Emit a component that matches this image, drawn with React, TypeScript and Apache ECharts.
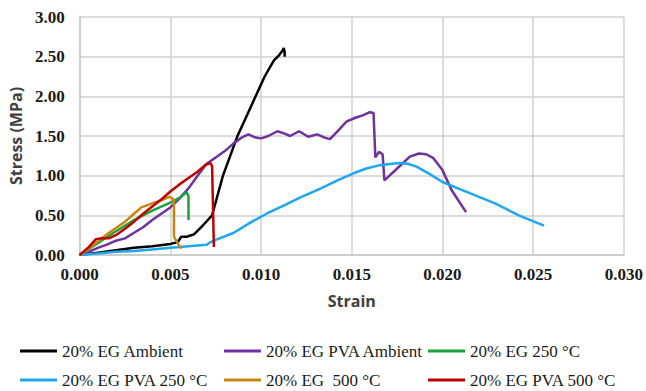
import React, { useEffect, useRef } from "react";
import * as echarts from "echarts";

// Stress–strain curves, each point is [strain, stress (MPa)]
const egAmbient: [number, number][] = [
  [0, 0], [0.001, 0.03], [0.002, 0.06], [0.003, 0.09], [0.004, 0.11], [0.005, 0.14],
  [0.0054, 0.16], [0.0056, 0.23], [0.0059, 0.23], [0.0063, 0.26], [0.0067, 0.35],
  [0.0073, 0.5], [0.0076, 0.75], [0.0079, 1.0], [0.0083, 1.25], [0.0087, 1.5],
  [0.0092, 1.75], [0.0097, 2.0], [0.0102, 2.25], [0.0107, 2.45], [0.011, 2.52],
  [0.0112, 2.58], [0.01125, 2.61], [0.0113, 2.56], [0.0113, 2.5],
];

const egPvaAmbient: [number, number][] = [
  [0, 0], [0.0005, 0.04], [0.001, 0.09], [0.0015, 0.13], [0.002, 0.18], [0.0025, 0.21],
  [0.003, 0.28], [0.0035, 0.35], [0.004, 0.44], [0.0045, 0.52], [0.005, 0.6],
  [0.0055, 0.71], [0.006, 0.84], [0.0065, 1.0], [0.007, 1.15], [0.0075, 1.23],
  [0.008, 1.31], [0.0085, 1.41], [0.009, 1.49], [0.0093, 1.52], [0.0097, 1.48],
  [0.01, 1.47], [0.0104, 1.5], [0.0109, 1.56], [0.0113, 1.53], [0.0116, 1.5],
  [0.0121, 1.56], [0.0126, 1.49], [0.0131, 1.52], [0.0135, 1.48], [0.0138, 1.46],
  [0.0143, 1.58], [0.0147, 1.68], [0.0152, 1.73], [0.0156, 1.76], [0.016, 1.8],
  [0.0162, 1.79], [0.0163, 1.23], [0.0165, 1.3], [0.0167, 1.27], [0.0168, 0.94],
  [0.0175, 1.09], [0.0182, 1.24], [0.0187, 1.28], [0.0191, 1.27], [0.0195, 1.22],
  [0.02, 1.07], [0.0205, 0.82], [0.0213, 0.54],
];

const eg250: [number, number][] = [
  [0, 0], [0.001, 0.15], [0.002, 0.3], [0.003, 0.44], [0.004, 0.56], [0.005, 0.66],
  [0.0055, 0.72], [0.0059, 0.79], [0.006, 0.74], [0.006, 0.44],
];

const egPva250: [number, number][] = [
  [0, 0], [0.001, 0.02], [0.002, 0.04], [0.003, 0.05], [0.004, 0.07], [0.005, 0.09],
  [0.006, 0.11], [0.007, 0.13], [0.0072, 0.16], [0.0075, 0.19], [0.0085, 0.28],
  [0.0095, 0.42], [0.0103, 0.52], [0.0113, 0.63], [0.0122, 0.73], [0.0133, 0.84],
  [0.0143, 0.95], [0.0151, 1.03], [0.0158, 1.09], [0.0165, 1.13], [0.0176, 1.16],
  [0.0181, 1.15], [0.0186, 1.11], [0.0193, 1.02], [0.02, 0.92], [0.0215, 0.78],
  [0.0229, 0.65], [0.0242, 0.5], [0.0256, 0.37],
];

const eg500: [number, number][] = [
  [0, 0], [0.0005, 0.08], [0.001, 0.17], [0.0015, 0.26], [0.0018, 0.31], [0.0025, 0.42],
  [0.003, 0.52], [0.0034, 0.6], [0.004, 0.65], [0.0045, 0.69], [0.0049, 0.73],
  [0.0051, 0.72], [0.0052, 0.68], [0.0052, 0.23], [0.0054, 0.15], [0.0056, 0.08],
];

const egPva500: [number, number][] = [
  [0, 0], [0.0005, 0.1], [0.0009, 0.2], [0.0012, 0.21], [0.0016, 0.21], [0.002, 0.25],
  [0.0025, 0.33], [0.003, 0.42], [0.0035, 0.52], [0.004, 0.61], [0.0045, 0.7],
  [0.005, 0.8], [0.0055, 0.89], [0.006, 0.97], [0.0065, 1.05], [0.0069, 1.13],
  [0.0072, 1.16], [0.0073, 1.12], [0.0074, 0.1],
];

const seriesNames = [
  "20% EG Ambient",
  "20% EG PVA Ambient",
  "20% EG 250 °C",
  "20% EG PVA 250 °C",
  "20% EG  500 °C",
  "20% EG PVA 500 °C",
];
const seriesData = [egAmbient, egPvaAmbient, eg250, egPva250, eg500, egPva500];
const seriesColors = ["#000000", "#7030A0", "#1BA33B", "#1EA6EE", "#C8860E", "#C00000"];

// Legend grid: three columns, two rows
const legendCols = [20, 224, 428];
const legendRows = [341, 370];

const tickStyle = {
  fontFamily: "Liberation Serif",
  fontWeight: "bold",
  fontSize: 17,
  color: "#1a1a1a",
};

export default function App() {
  const ref = useRef<HTMLDivElement>(null);

  useEffect(() => {
    if (!ref.current) return;
    const chart = echarts.init(ref.current, undefined, { renderer: "svg" });

    const serif = "Liberation Serif";
    const sans = "Open Sans";

    const legends = seriesNames.map((name, i) => ({
      data: [name],
      left: legendCols[i % 3],
      top: legendRows[Math.floor(i / 3)],
      padding: 0,
      icon: "rect",
      itemWidth: 37,
      itemHeight: 3,
      selectedMode: false,
      textStyle: {
        fontFamily: serif,
        fontSize: 17,
        color: "#1a1a1a",
        lineHeight: 20,
      },
    }));

    chart.setOption({
      animation: false,
      backgroundColor: "#ffffff",
      grid: { left: 77, right: 20, top: 17, bottom: 136, containLabel: false },
      legend: legends,
      xAxis: {
        type: "value",
        min: 0,
        max: 0.03,
        interval: 0.005,
        name: "Strain",
        nameLocation: "middle",
        nameGap: 38,
        nameTextStyle: { fontFamily: sans, fontWeight: "bold", fontSize: 16, color: "#404040" },
        axisLine: { show: true, lineStyle: { color: "#c8c8c8", width: 1.5 } },
        axisTick: { show: false },
        axisLabel: {
          margin: 11,
          ...tickStyle,
          formatter: (v: number) => v.toFixed(3),
        },
        splitLine: { show: true, lineStyle: { color: "#d0d0d0", width: 1.5 } },
      },
      yAxis: {
        type: "value",
        min: 0,
        max: 3,
        interval: 0.5,
        name: "Stress (MPa)",
        nameLocation: "middle",
        nameGap: 50,
        nameTextStyle: { fontFamily: sans, fontWeight: "bold", fontSize: 16, color: "#404040" },
        axisLine: { show: true, lineStyle: { color: "#c8c8c8", width: 1.5 } },
        axisTick: { show: false },
        axisLabel: {
          margin: 15,
          ...tickStyle,
          formatter: (v: number) => v.toFixed(2),
        },
        splitLine: { show: true, lineStyle: { color: "#d0d0d0", width: 1.5 } },
      },
      series: seriesNames.map((name, i) => ({
        name,
        type: "line",
        data: seriesData[i],
        showSymbol: false,
        symbol: "none",
        color: seriesColors[i],
        lineStyle: { color: seriesColors[i], width: 2.5 },
        z: 2 + i,
      })),
    });

    return () => chart.dispose();
  }, []);

  return (
    <div
      ref={ref}
      style={{ position: "fixed", left: 0, top: 0, width: 646, height: 391 }}
    />
  );
}
